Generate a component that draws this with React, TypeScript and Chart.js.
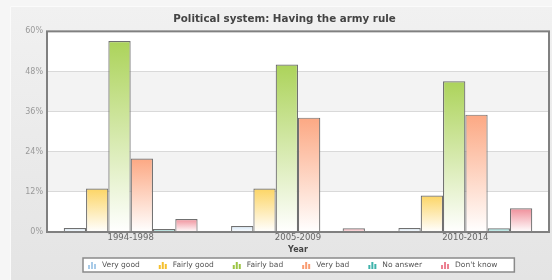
import React, { useEffect, useRef } from 'react';
import { Chart, registerables } from 'chart.js';

Chart.register(...registerables);

const categories = ['1994-1998', '2005-2009', '2010-2014'];
const seriesNames = ['Very good', 'Fairly good', 'Fairly bad', 'Very bad', 'No answer', "Don't know"];
const veryGood = [1.2, 1.8, 1.2];
const fairlyGood = [13.0, 13.0, 10.9];
const fairlyBad = [57.1, 50.1, 45.1];
const veryBad = [22.0, 34.2, 35.1];
const noAnswer = [0.9, 0, 1.1];
const dontKnow = [3.9, 1.1, 7.1];
const yTickValues = [0, 12, 24, 36, 48, 60];

const seriesValues = [veryGood, fairlyGood, fairlyBad, veryBad, noAnswer, dontKnow];
const barColors = ['#d2e5f5', '#fcd565', '#acd35a', '#fca883', '#62c7c0', '#f08f9a'];
const iconColors = ['#a9cbe8', '#f5c02e', '#9cc544', '#f99d73', '#3fb3ab', '#ec8090'];

const FONT = "'DejaVu Sans', Verdana, sans-serif";

const gradientFill = (color: string) => (ctx: any) => {
  const chart = ctx.chart;
  const area = chart.chartArea;
  if (!area || ctx.type !== 'data') return color;
  const v = ctx.parsed ? ctx.parsed.y : ctx.raw;
  const ys = chart.scales.y;
  const top = ys.getPixelForValue(v);
  const bottom = ys.getPixelForValue(0);
  if (!isFinite(top) || !isFinite(bottom) || Math.abs(bottom - top) < 0.5) return color;
  const g = chart.ctx.createLinearGradient(0, top, 0, bottom);
  g.addColorStop(0, color);
  g.addColorStop(1, '#ffffff');
  return g;
};

const backgroundPlugin = {
  id: 'bgPanel',
  beforeDraw(chart: any) {
    const { ctx, width, height, chartArea } = chart;
    ctx.save();
    ctx.fillStyle = '#f6f6f6';
    ctx.fillRect(0, 0, width, height);
    const g = ctx.createLinearGradient(0, 6, 0, height);
    g.addColorStop(0, '#f1f1f1');
    g.addColorStop(1, '#e4e4e4');
    ctx.fillStyle = g;
    ctx.fillRect(10, 6, width - 10, height - 6);
    ctx.strokeStyle = '#fbfbfb';
    ctx.lineWidth = 1;
    ctx.beginPath();
    ctx.moveTo(10.5, height);
    ctx.lineTo(10.5, 6.5);
    ctx.lineTo(width, 6.5);
    ctx.stroke();
    if (chartArea) {
      ctx.fillStyle = '#ffffff';
      ctx.fillRect(chartArea.left, chartArea.top, chartArea.right - chartArea.left, chartArea.bottom - chartArea.top);
      const ys = chart.scales.y;
      ctx.fillStyle = '#f3f3f3';
      for (let i = 1; i < yTickValues.length - 1; i += 2) {
        const y1 = ys.getPixelForValue(yTickValues[i]);
        const y2 = ys.getPixelForValue(yTickValues[i + 1]);
        ctx.fillRect(chartArea.left, y2, chartArea.right - chartArea.left, y1 - y2);
      }
    }
    ctx.restore();
  },
  afterDatasetsDraw(chart: any) {
    const { ctx, chartArea } = chart;
    ctx.save();
    ctx.strokeStyle = '#808080';
    ctx.lineWidth = 2;
    ctx.strokeRect(chartArea.left, chartArea.top, chartArea.right - chartArea.left, chartArea.bottom - chartArea.top);
    ctx.restore();
  },
};

const legendPlugin = {
  id: 'customLegend',
  afterDraw(chart: any) {
    const { ctx } = chart;
    const datasets = chart.data.datasets;
    ctx.save();
    ctx.font = `7.5px ${FONT}`;
    const iconW = 8;
    const iconGap = 6;
    const itemGap = 19;
    const startX = 88;
    const boxTop = 258;
    const boxBottom = 272;
    const widths = datasets.map((d: any) => iconW + iconGap + ctx.measureText(d.label).width);
    const total = widths.reduce((a: number, b: number) => a + b, 0) + itemGap * (datasets.length - 1);
    const boxLeft = startX - 5;
    const boxRight = startX + total + 17;
    ctx.fillStyle = '#ffffff';
    ctx.fillRect(boxLeft, boxTop, boxRight - boxLeft, boxBottom - boxTop);
    ctx.strokeStyle = '#8a8a8a';
    ctx.lineWidth = 1.5;
    ctx.strokeRect(boxLeft, boxTop, boxRight - boxLeft, boxBottom - boxTop);
    let x = startX;
    const base = 269;
    datasets.forEach((d: any, i: number) => {
      ctx.fillStyle = iconColors[i];
      const hs = [4, 7, 5];
      hs.forEach((h, k) => {
        ctx.fillRect(x + k * 3, base - h, 2, h);
      });
      ctx.fillStyle = '#555555';
      ctx.textBaseline = 'middle';
      ctx.textAlign = 'left';
      ctx.fillText(d.label, x + iconW + iconGap, 265.5);
      x += widths[i] + itemGap;
    });
    ctx.restore();
  },
};

export default function App() {
  const ref = useRef<HTMLCanvasElement | null>(null);
  useEffect(() => {
    if (!ref.current) return;
    const chart = new Chart(ref.current, {
      type: 'bar',
      data: {
        labels: categories,
        datasets: seriesNames.map((name, i) => ({
          label: name,
          data: seriesValues[i],
          backgroundColor: gradientFill(barColors[i]),
          borderColor: '#707070',
          borderWidth: 1.2,
          barPercentage: 1,
          categoryPercentage: 0.8,
        })),
      },
      options: {
        animation: false,
        responsive: false,
        maintainAspectRatio: false,
        layout: { padding: { left: 20, right: 3, top: 13, bottom: 24 } },
        plugins: {
          legend: { display: false },
          tooltip: { enabled: false },
          title: {
            display: true,
            text: 'Political system: Having the army rule',
            color: '#444444',
            font: { family: FONT, size: 10.3, weight: 'bold' },
            padding: { top: 0, bottom: 6 },
          },
        },
        scales: {
          x: {
            grid: { display: false, drawTicks: false },
            border: { display: false },
            ticks: { color: '#666666', font: { family: FONT, size: 8.5 }, padding: 1 },
            title: {
              display: true,
              text: 'Year',
              color: '#444444',
              font: { family: FONT, size: 8, weight: 'bold' },
              padding: { top: 0, bottom: 1 },
            },
            afterFit: (s: any) => { s.height = 24; },
          },
          y: {
            min: 0,
            max: 60,
            afterBuildTicks: (s: any) => { s.ticks = yTickValues.map((v) => ({ value: v })); },
            grid: { color: '#d9d9d9', drawTicks: false },
            border: { display: false },
            ticks: {
              color: '#999999',
              font: { family: FONT, size: 8 },
              padding: 4,
              callback: (v: any) => `${v}%`,
            },
            afterFit: (s: any) => { s.width = 27; },
          },
        },
      },
      plugins: [backgroundPlugin, legendPlugin],
    });
    return () => chart.destroy();
  }, []);
  return (
    <div style={{ position: 'absolute', left: 0, top: 0, width: 552, height: 280 }}>
      <canvas ref={ref} width={552} height={280} style={{ display: 'block', width: 552, height: 280 }} />
    </div>
  );
}
